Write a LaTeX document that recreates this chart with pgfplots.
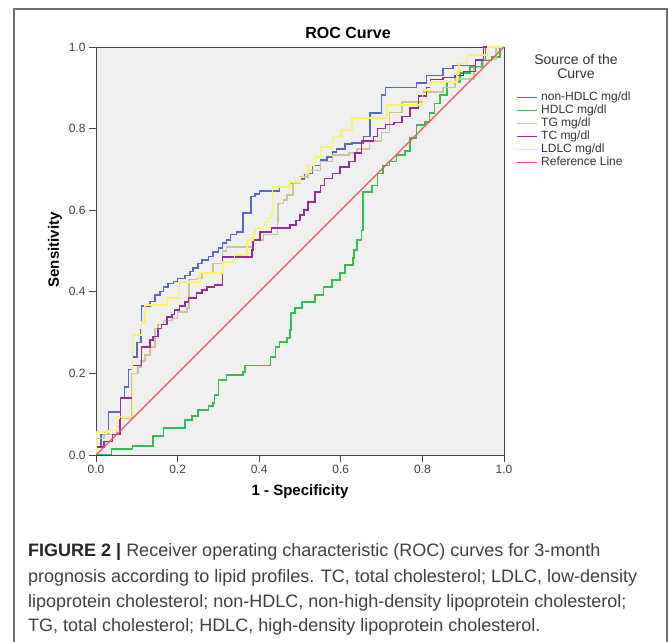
\documentclass[border=0pt]{standalone}
\usepackage{pgfplots}
\pgfplotsset{compat=1.18}
\usepackage{fontspec}
\setmainfont{Liberation Sans}

\definecolor{cBlue}{RGB}{85,105,205}
\definecolor{cGreen}{RGB}{50,190,80}
\definecolor{cTG}{RGB}{205,195,150}
\definecolor{cTC}{RGB}{150,45,150}
\definecolor{cLDLC}{RGB}{250,245,90}
\definecolor{cRef}{RGB}{245,85,85}
\definecolor{plotbg}{RGB}{240,240,240}
\definecolor{framegray}{RGB}{110,110,110}
\definecolor{axisgray}{RGB}{70,70,70}

\begin{document}
\begin{tikzpicture}
\useasboundingbox (0pt,0pt) rectangle (669pt,642pt);
\draw[framegray, line width=1.2pt] (14pt,-2pt) -- (14pt,633pt) -- (667pt,633pt) -- (667pt,-2pt);

\begin{axis}[
  at={(96pt,187pt)}, anchor=south west,
  scale only axis, width=408pt, height=408pt,
  xmin=0, xmax=1, ymin=0, ymax=1,
  axis background/.style={fill=plotbg},
  axis line style={draw=axisgray, line width=0.9pt},
  xtick={0,0.2,0.4,0.6,0.8,1}, ytick={0,0.2,0.4,0.6,0.8,1},
  xtick pos=bottom, ytick pos=left,
  tick align=outside, major tick length=7pt,
  tick style={draw=axisgray, line width=0.9pt},
  tick label style={font=\fontsize{12}{12}\selectfont, text=black!75,
    /pgf/number format/fixed, /pgf/number format/fixed zerofill,
    /pgf/number format/precision=1},
  /pgf/number format/assume math mode=true,
  legend style={at={(1.022,0.897)}, anchor=north west, draw=none, fill=none,
    font=\fontsize{12}{13}\selectfont, text=black!80, row sep=0.6pt,
    nodes={inner sep=0.6pt, text height=8.7pt, text depth=2.5pt},
    /tikz/every odd column/.append style={column sep=3pt}},
  legend cell align=left,
  legend image code/.code={\draw[#1, line width=1.4pt] (0pt,0pt) -- (20pt,0pt);},
  every axis plot/.append style={line width=1.4pt},
]
% non-HDLC
\addplot[cBlue, const plot, line width=1.4pt] coordinates {
(0,0)(0,0.02)(0.012,0.05)(0.03,0.105)(0.06,0.14)(0.07,0.167)(0.08,0.21)(0.09,0.24)
(0.10,0.275)(0.11,0.306)(0.112,0.365)(0.132,0.376)(0.145,0.392)(0.157,0.40)(0.165,0.412)
(0.176,0.42)(0.19,0.425)(0.20,0.433)(0.218,0.44)(0.23,0.45)(0.238,0.458)(0.25,0.47)
(0.26,0.478)(0.275,0.486)(0.287,0.498)(0.30,0.507)(0.31,0.52)(0.32,0.527)(0.33,0.54)
(0.345,0.547)(0.36,0.593)(0.38,0.633)(0.39,0.64)(0.40,0.647)(0.45,0.655)(0.475,0.667)
(0.50,0.676)(0.51,0.69)(0.53,0.71)(0.55,0.723)(0.566,0.73)(0.58,0.743)(0.59,0.75)
(0.61,0.762)(0.627,0.765)(0.655,0.78)(0.672,0.838)(0.70,0.882)(0.71,0.90)(0.785,0.912)
(0.81,0.93)(0.85,0.948)(0.875,0.955)(0.93,0.97)(0.955,1.0)(1,1)};
\addlegendentry{non-HDLC mg/dl}
% HDLC
\addplot[cGreen, const plot, line width=1.4pt] coordinates {
(0,0)(0.038,0.015)(0.09,0.022)(0.14,0.047)(0.165,0.066)(0.218,0.086)(0.235,0.096)
(0.25,0.11)(0.275,0.12)(0.287,0.127)(0.29,0.147)(0.30,0.184)(0.32,0.196)(0.36,0.203)
(0.365,0.22)(0.427,0.24)(0.44,0.265)(0.45,0.277)(0.468,0.287)(0.475,0.306)(0.478,0.348)
(0.488,0.36)(0.505,0.375)(0.537,0.392)(0.557,0.412)(0.578,0.429)(0.598,0.446)(0.61,0.466)
(0.63,0.483)(0.632,0.502)(0.64,0.527)(0.65,0.55)(0.654,0.645)(0.676,0.66)(0.69,0.69)
(0.703,0.71)(0.72,0.72)(0.737,0.735)(0.757,0.745)(0.77,0.777)(0.786,0.809)(0.806,0.816)
(0.818,0.838)(0.83,0.862)(0.843,0.882)(0.86,0.914)(0.892,0.936)(0.917,0.951)(0.946,0.968)
(0.97,0.975)(0.99,1.0)(1,1)};
\addlegendentry{HDLC mg/dl}
% TG
\addplot[cTG, const plot, line width=1.4pt] coordinates {
(0,0)(0,0.04)(0.02,0.05)(0.05,0.07)(0.06,0.09)(0.088,0.2)(0.103,0.216)(0.11,0.23)
(0.12,0.245)(0.132,0.265)(0.145,0.31)(0.152,0.32)(0.165,0.33)(0.186,0.335)(0.20,0.35)
(0.223,0.36)(0.228,0.43)(0.247,0.433)(0.26,0.446)(0.287,0.47)(0.31,0.50)(0.32,0.51)
(0.385,0.527)(0.41,0.54)(0.445,0.57)(0.446,0.617)(0.46,0.625)(0.468,0.637)(0.483,0.667)
(0.50,0.681)(0.52,0.698)(0.55,0.72)(0.58,0.735)(0.62,0.74)(0.64,0.75)(0.67,0.77)
(0.70,0.79)(0.72,0.84)(0.75,0.865)(0.80,0.89)(0.85,0.90)(0.88,0.922)(0.926,0.95)
(0.95,0.97)(0.98,1.0)(1,1)};
\addlegendentry{TG mg/dl}
% TC
\addplot[cTC, const plot, line width=1.4pt] coordinates {
(0,0)(0,0.02)(0.02,0.033)(0.04,0.05)(0.059,0.086)(0.06,0.14)(0.09,0.22)(0.112,0.265)
(0.132,0.282)(0.14,0.29)(0.152,0.31)(0.16,0.32)(0.174,0.338)(0.186,0.345)(0.193,0.355)
(0.205,0.365)(0.218,0.375)(0.226,0.385)(0.247,0.397)(0.26,0.404)(0.272,0.412)(0.29,0.417)
(0.31,0.485)(0.382,0.502)(0.385,0.527)(0.402,0.547)(0.43,0.556)(0.475,0.564)(0.49,0.575)
(0.50,0.588)(0.51,0.60)(0.52,0.62)(0.537,0.645)(0.55,0.66)(0.56,0.678)(0.58,0.69)
(0.598,0.706)(0.62,0.72)(0.635,0.74)(0.65,0.77)(0.68,0.78)(0.69,0.80)(0.71,0.81)
(0.73,0.815)(0.75,0.83)(0.77,0.85)(0.79,0.88)(0.81,0.90)(0.82,0.92)(0.85,0.925)
(0.88,0.93)(0.90,0.94)(0.93,0.968)(0.95,1.0)(1,1)};
\addlegendentry{TC mg/dl}
% LDLC
\addplot[cLDLC, const plot, line width=1.4pt] coordinates {
(0,0)(0,0.056)(0.03,0.06)(0.05,0.095)(0.09,0.294)(0.112,0.326)(0.12,0.368)(0.174,0.385)
(0.204,0.424)(0.255,0.446)(0.31,0.473)(0.34,0.49)(0.37,0.527)(0.385,0.54)(0.39,0.555)
(0.41,0.57)(0.42,0.58)(0.43,0.593)(0.433,0.657)(0.475,0.669)(0.50,0.68)(0.508,0.69)
(0.52,0.71)(0.535,0.73)(0.55,0.755)(0.58,0.78)(0.60,0.797)(0.627,0.826)(0.713,0.858)
(0.80,0.895)(0.82,0.914)(0.885,0.936)(0.89,0.96)(0.91,0.98)(0.96,1.0)(1,1)};
\addlegendentry{LDLC mg/dl}
% reference line
\addplot[cRef, line width=1.4pt] coordinates {(0,0)(1,1)};
\addlegendentry{Reference Line}
\end{axis}

\begin{scope}[x=1pt,y=1pt]
\node[font=\bfseries\fontsize{16}{16}\selectfont] at (348,609) {ROC Curve};
\node[font=\bfseries\fontsize{15}{15}\selectfont, rotate=90] at (55,392) {Sensitivity};
\node[font=\bfseries\fontsize{15}{15}\selectfont] at (300,150) {1 - Specificity};
\node[font=\fontsize{14}{14}\selectfont, text=black!80] at (576,582) {Source of the};
\node[font=\fontsize{14}{14}\selectfont, text=black!80] at (576,568) {Curve};

\begin{scope}[every node/.style={anchor=base west, inner sep=0pt, font=\fontsize{18}{18}\selectfont, text=black!75}]
\node at (28,85) {\textbf{\color{black!85}FIGURE 2 |} Receiver operating characteristic (ROC) curves for 3-month};
\node at (28,59) {prognosis according to lipid profiles. TC, total cholesterol; LDLC, low-density};
\node at (28,34) {lipoprotein cholesterol; non-HDLC, non-high-density lipoprotein cholesterol;};
\node at (28,10) {TG, total cholesterol; HDLC, high-density lipoprotein cholesterol.};
\end{scope}
\end{scope}
\end{tikzpicture}
\end{document}
